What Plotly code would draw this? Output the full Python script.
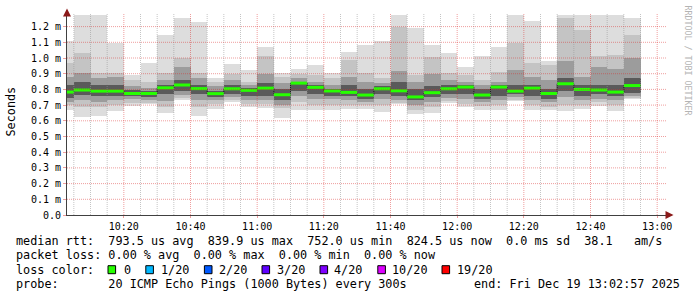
import plotly.graph_objects as go
from datetime import datetime, timedelta

# ---------------- data (values in milliseconds) ----------------
slot_start = "2025-12-19 10:00:00"      # start of the first 5-minute slot
step_seconds = 300
view_start = "2025-12-19 10:02:57"
view_end = "2025-12-19 13:02:57"

median_ms = [0.783, 0.796, 0.789, 0.789, 0.774, 0.774, 0.810, 0.828, 0.805, 0.773,
             0.804, 0.794, 0.808, 0.766, 0.840, 0.813, 0.790, 0.781, 0.764, 0.804,
             0.791, 0.752, 0.779, 0.804, 0.815, 0.764, 0.815, 0.789, 0.808, 0.774,
             0.836, 0.800, 0.796, 0.783, 0.8245]
max_ms = [1.110, 1.274, 1.274, 1.094, 0.891, 0.970, 1.147, 1.253, 1.230, 0.871,
          0.962, 0.923, 1.068, 0.906, 0.928, 0.955, 0.902, 1.040, 1.083, 1.108,
          1.274, 1.194, 1.083, 1.034, 0.940, 1.013, 1.072, 1.274, 1.236, 0.983,
          1.274, 1.274, 1.274, 1.274, 1.253]
hi2_ms = [0.970, 1.034, 0.906, 0.906, 0.860, 0.850, 0.902, 1.000, 0.906, 0.850,
          0.900, 0.850, 1.010, 0.880, 0.900, 0.890, 0.870, 0.987, 0.906, 0.871,
          1.200, 0.891, 1.004, 0.906, 0.891, 0.860, 0.913, 1.094, 0.966, 0.955,
          1.253, 1.180, 1.010, 1.020, 1.147]
hi3_ms = [0.880, 0.906, 0.870, 0.880, 0.820, 0.810, 0.860, 0.945, 0.870, 0.820,
          0.860, 0.830, 0.900, 0.840, 0.870, 0.850, 0.830, 0.880, 0.850, 0.840,
          0.920, 0.850, 0.900, 0.860, 0.850, 0.830, 0.850, 0.923, 0.880, 0.860,
          0.980, 0.880, 0.940, 0.930, 1.000]
hi4_ms = [0.830, 0.845, 0.830, 0.830, 0.795, 0.790, 0.830, 0.860, 0.830, 0.790,
          0.825, 0.810, 0.840, 0.800, 0.850, 0.830, 0.805, 0.830, 0.800, 0.820,
          0.850, 0.800, 0.820, 0.830, 0.830, 0.800, 0.830, 0.830, 0.830, 0.800,
          0.870, 0.830, 0.830, 0.830, 0.870]
lo4_ms = [0.745, 0.765, 0.760, 0.760, 0.760, 0.750, 0.770, 0.790, 0.770, 0.750,
          0.770, 0.760, 0.760, 0.730, 0.790, 0.770, 0.760, 0.755, 0.740, 0.770,
          0.760, 0.730, 0.750, 0.770, 0.770, 0.740, 0.760, 0.770, 0.760, 0.740,
          0.790, 0.760, 0.770, 0.760, 0.780]
lo3_ms = [0.720, 0.735, 0.720, 0.730, 0.740, 0.735, 0.725, 0.765, 0.735, 0.730,
          0.750, 0.735, 0.730, 0.700, 0.760, 0.740, 0.740, 0.735, 0.720, 0.740,
          0.730, 0.700, 0.720, 0.745, 0.740, 0.720, 0.730, 0.750, 0.730, 0.720,
          0.750, 0.730, 0.740, 0.730, 0.755]
lo2_ms = [0.700, 0.690, 0.690, 0.700, 0.715, 0.715, 0.690, 0.745, 0.690, 0.710,
          0.730, 0.710, 0.705, 0.680, 0.720, 0.700, 0.700, 0.700, 0.700, 0.700,
          0.715, 0.670, 0.690, 0.725, 0.710, 0.695, 0.700, 0.735, 0.700, 0.690,
          0.700, 0.700, 0.720, 0.700, 0.745]
min_ms = [0.672, 0.625, 0.630, 0.664, 0.694, 0.705, 0.651, 0.732, 0.628, 0.673,
          0.719, 0.689, 0.683, 0.620, 0.668, 0.668, 0.668, 0.678, 0.676, 0.657,
          0.706, 0.642, 0.651, 0.711, 0.689, 0.672, 0.672, 0.728, 0.672, 0.668,
          0.664, 0.676, 0.694, 0.664, 0.736]

y_tick_vals = [0.0, 0.1, 0.2, 0.3, 0.4, 0.5, 0.6, 0.7, 0.8, 0.9, 1.0, 1.1, 1.2]
y_tick_text = ["0.0", "0.1 m", "0.2 m", "0.3 m", "0.4 m", "0.5 m", "0.6 m",
               "0.7 m", "0.8 m", "0.9 m", "1.0 m", "1.1 m", "1.2 m"]
x_tick_text = ["10:20", "10:40", "11:00", "11:20", "11:40", "12:00",
               "12:20", "12:40", "13:00"]

loss_labels = ["0", "1/20", "2/20", "3/20", "4/20", "10/20", "19/20"]
loss_colors = ["#26ff00", "#00b8ff", "#0059ff", "#5e00ff", "#7e00ff", "#dd00ff", "#ff0000"]

legend_line1 = "median rtt:  793.5 us avg  839.9 us max  752.0 us min  824.5 us now  0.0 ms sd  38.1   am/s"
legend_line2 = "packet loss: 0.00 % avg  0.00 % max  0.00 % min  0.00 % now"
legend_line3 = "loss color:"
legend_line4 = "probe:       20 ICMP Echo Pings (1000 Bytes) every 300s"
legend_end = "end: Fri Dec 19 13:02:57 2025"

# ---------------- geometry ----------------
W, H = 697, 297
L, R, T, B = 67, 30, 13, 82
PW, PH = W - L - R, H - T - B
Y_MAX = PH / 157.0
MONO = "DejaVu Sans Mono"


def px_x(px):
    return (px - L) / PW


def px_y(py):
    return (H - B - py) / PH


def nb(s):
    return s.replace(" ", "\u00a0")


t0 = datetime.fromisoformat(slot_start)
step = timedelta(seconds=step_seconds)
n = len(median_ms)
centers = [t0 + step * (i + 0.5) for i in range(n)]
starts = [t0 + step * i for i in range(n)]
ends = [t0 + step * (i + 1) for i in range(n)]

fig = go.Figure()

bands = [(min_ms, max_ms, "#dddddd"),
         (lo2_ms, hi2_ms, "#c4c4c4"),
         (lo3_ms, hi3_ms, "#9c9c9c"),
         (lo4_ms, hi4_ms, "#5a5a5a")]
for lo, hi, col in bands:
    fig.add_trace(go.Bar(
        x=centers, y=[h - l for h, l in zip(hi, lo)], base=lo,
        width=[step_seconds * 1000] * n,
        marker=dict(color=col, line=dict(width=0)),
        hoverinfo="skip", showlegend=False))

# dark step line under the median
fig.add_trace(go.Scatter(
    x=starts + [ends[-1]], y=median_ms + [median_ms[-1]],
    mode="lines", line=dict(color="#202020", width=1, shape="hv"),
    hoverinfo="skip", showlegend=False))

# green median segments
mx, my = [], []
for s, e, m in zip(starts, ends, median_ms):
    mx += [s, e, None]
    my += [m, m, None]
fig.add_trace(go.Scatter(
    x=mx, y=my, mode="lines", line=dict(color=loss_colors[0], width=3),
    hoverinfo="skip", showlegend=False))

# ---------------- grid (drawn above the smoke, like rrdtool) ----------------
shapes = []
vs = datetime.fromisoformat(view_start)
ve = datetime.fromisoformat(view_end)
t = t0 + step
while t <= ve:
    if t >= vs:
        major = (t.minute % 20 == 0)
        shapes.append(dict(
            type="line", xref="x", yref="paper", x0=t, x1=t, y0=0, y1=1,
            layer="above",
            line=dict(color="rgba(220,40,40,0.45)" if major else "rgba(150,150,150,0.55)",
                      width=1, dash="1px,1px")))
    t += step
for v in y_tick_vals[1:]:
    shapes.append(dict(
        type="line", xref="paper", yref="y", x0=0, x1=1, y0=v, y1=v,
        layer="above",
        line=dict(color="rgba(220,40,40,0.45)", width=1, dash="1px,1px")))

# loss colour swatches
swatch_x = [108, 145.8, 204.4, 262, 320, 377.8, 442]
label_x = [123, 160, 217.8, 275.6, 333, 391, 455.6]
annotations = []
for sx, lx, col, lab in zip(swatch_x, label_x, loss_colors, loss_labels):
    shapes.append(dict(
        type="rect", xref="paper", yref="paper",
        x0=px_x(sx), x1=px_x(sx + 7.6), y0=px_y(273.7), y1=px_y(265.7),
        fillcolor=col, line=dict(color="#000000", width=1), layer="above"))
    annotations.append(dict(
        xref="paper", yref="paper", x=px_x(lx - 1), y=px_y(269.5),
        xanchor="left", yanchor="middle", text=nb(lab), showarrow=False,
        font=dict(family=MONO, size=11.8, color="#000000")))

for txt, ypx in [(legend_line1, 241), (legend_line2, 255.3),
                 (legend_line3, 269.5), (legend_line4, 283.8)]:
    annotations.append(dict(
        xref="paper", yref="paper", x=px_x(14.3), y=px_y(ypx),
        xanchor="left", yanchor="middle", text=nb(txt), showarrow=False,
        font=dict(family=MONO, size=11.8, color="#000000")))
annotations.append(dict(
    xref="paper", yref="paper", x=px_x(682), y=px_y(283.8),
    xanchor="right", yanchor="middle", text=nb(legend_end), showarrow=False,
    font=dict(family=MONO, size=11.8, color="#000000")))

# y title
annotations.append(dict(
    xref="paper", yref="paper", x=px_x(10.5), y=px_y(112),
    xanchor="center", yanchor="middle", text="Seconds", textangle=-90,
    showarrow=False, font=dict(family=MONO, size=11.8, color="#000000")))
# watermark
annotations.append(dict(
    xref="paper", yref="paper", x=px_x(687.5), y=px_y(60),
    xanchor="center", yanchor="middle", text=nb("RRDTOOL / TOBI OETIKER"),
    textangle=90, showarrow=False,
    font=dict(family=MONO, size=8.3, color="#b4b4b4")))

# axis arrows
annotations.append(dict(
    xref="paper", yref="paper", x=0, y=px_y(8.5), ax=0, ay=6, text="",
    showarrow=True, arrowhead=2, arrowsize=1.6, arrowwidth=1,
    arrowcolor="#8b1a1a"))
annotations.append(dict(
    xref="paper", yref="paper", x=px_x(673.5), y=0, ax=-7, ay=0, text="",
    showarrow=True, arrowhead=2, arrowsize=1.6, arrowwidth=1,
    arrowcolor="#8b1a1a"))

x_tick_vals = [datetime(2025, 12, 19, 10, 20) + timedelta(minutes=20 * i)
               for i in range(len(x_tick_text))]

fig.update_layout(
    width=W, height=H,
    margin=dict(l=L, r=R, t=T, b=B, pad=0),
    paper_bgcolor="#ffffff", plot_bgcolor="#ffffff",
    barmode="overlay", bargap=0,
    shapes=shapes, annotations=annotations,
    showlegend=False,
    xaxis=dict(
        type="date", range=[vs, ve], tickvals=x_tick_vals, ticktext=x_tick_text,
        showgrid=False, zeroline=False, showline=True, linecolor="#404040",
        linewidth=1, ticks="outside", ticklen=2, tickcolor="rgba(220,40,40,0.45)",
        tickfont=dict(family=MONO, size=10, color="#000000")),
    yaxis=dict(
        range=[0, Y_MAX], tickvals=y_tick_vals, ticktext=y_tick_text,
        showgrid=False, zeroline=False, showline=True, linecolor="#404040",
        linewidth=1, ticks="outside", ticklen=3, tickcolor="rgba(220,40,40,0.45)",
        tickfont=dict(family=MONO, size=10, color="#000000")),
)

fig.write_html("out.html")
